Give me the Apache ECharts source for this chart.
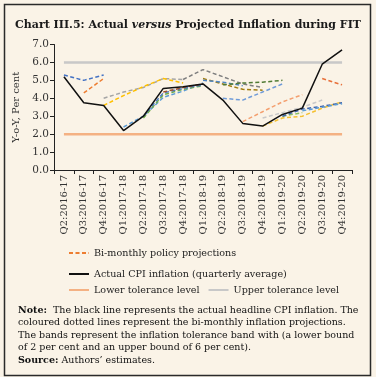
<!DOCTYPE html>
<html>
<head>
<meta charset="utf-8">
<script src="https://cdn.jsdelivr.net/npm/echarts@6/dist/echarts.min.js"></script>
<style>
  html, body { margin: 0; padding: 0; background: #faf3e7; }
  #chart1 { width: 376px; height: 377px; }
</style>
</head>
<body>
<div id="chart1"></div>
<script>
// 분기 (x축)
const categories = [
  'Q2:2016-17', 'Q3:2016-17', 'Q4:2016-17', 'Q1:2017-18', 'Q2:2017-18',
  'Q3:2017-18', 'Q4:2017-18', 'Q1:2018-19', 'Q2:2018-19', 'Q3:2018-19',
  'Q4:2018-19', 'Q1:2019-20', 'Q2:2019-20', 'Q3:2019-20', 'Q4:2019-20'
];
const yTicks = [0, 1, 2, 3, 4, 5, 6, 7];

// 실제 CPI (분기 평균)
const actualCpi = [5.2, 3.75, 3.6, 2.2, 3.0, 4.55, 4.65, 4.8, 3.9, 2.6, 2.45, 3.1, 3.45, 5.9, 6.7];
const lowerTol = [2, 2, 2, 2, 2, 2, 2, 2, 2, 2, 2, 2, 2, 2, 2];
const upperTol = [6, 6, 6, 6, 6, 6, 6, 6, 6, 6, 6, 6, 6, 6, 6];

// bi-monthly policy projections (null = no projection)
const _ = null;
const proj01 = [5.3, 5.0, 5.3, _, _, _, _, _, _, _, _, _, _, _, _];
const proj02 = [_, 4.3, 5.1, _, _, _, _, _, _, _, _, _, _, _, _];
const proj03 = [_, _, 4.0, 4.35, 4.6, 5.1, 5.05, _, _, _, _, _, _, _, _];
const proj04 = [_, _, 3.6, 4.15, 4.65, 5.1, 4.85, _, _, _, _, _, _, _, _];
const proj05 = [_, _, _, 2.4, 3.0, 4.05, 4.4, 4.85, _, _, _, _, _, _, _];
const proj06 = [_, _, _, _, 2.9, 4.2, 4.5, 4.7, _, _, _, _, _, _, _];
const proj07 = [_, _, _, _, 3.0, 4.3, 4.55, 4.75, _, _, _, _, _, _, _];
const proj08 = [_, _, _, _, _, 4.35, 4.6, 4.8, _, _, _, _, _, _, _];
const proj09 = [_, _, _, _, _, _, 5.05, 5.6, 5.2, 4.8, 4.6, _, _, _, _];
const proj10 = [_, _, _, _, _, _, _, 5.1, 4.8, 4.5, 4.45, _, _, _, _];
const proj11 = [_, _, _, _, _, _, _, 5.0, 4.9, 4.7, _, _, _, _, _];
const proj12 = [_, _, _, _, _, _, _, _, 4.75, 4.85, 4.9, 5.0, _, _, _];
const proj13 = [_, _, _, _, _, _, _, _, 4.0, 3.9, 4.35, 4.8, _, _, _];
const proj14 = [_, _, _, _, _, _, _, _, _, 2.7, 3.25, 3.8, 4.2, _, _];
const proj15 = [_, _, _, _, _, _, _, _, _, _, 2.9, 3.2, 3.5, 3.9, _];
const proj16 = [_, _, _, _, _, _, _, _, _, _, 2.45, 2.9, 3.0, 3.45, 3.8];
const proj17 = [_, _, _, _, _, _, _, _, _, _, _, 3.0, 3.2, _, _];
const proj18 = [_, _, _, _, _, _, _, _, _, _, _, 3.0, 3.4, 3.55, 3.75];
const proj19 = [_, _, _, _, _, _, _, _, _, _, _, _, 3.3, 3.5, 3.7];
const proj20 = [_, _, _, _, _, _, _, _, _, _, _, _, _, 5.1, 4.75];

const projections = [proj02, proj01, proj03, proj04, proj05, proj06, proj07, proj08, proj09, proj10,
  proj11, proj12, proj13, proj14, proj15, proj16, proj17, proj18, proj19, proj20];
const projColors = ['#ed7d31', '#4472c4', '#a5a5a5', '#ffc000', '#5b9bd5', '#70ad47', '#4a78c0', '#a0522d',
  '#7f7f7f', '#a07c10', '#4f86c6', '#4f7a34', '#6f9bd8', '#f4a070', '#c9c9c9', '#f5c030',
  '#8cc063', '#3d64b0', '#5b9bd5', '#e8703a'];

const FONT = 'DejaVu Serif';

const chartDiv = document.getElementById('chart1');
const myChart = echarts.init(chartDiv, null, { renderer: 'canvas' });

let series = projections.map((d, i) => ({
  name: i === 0 ? 'Bi-monthly policy projections' : 'proj' + i,
  type: 'line',
  data: d,
  symbol: 'none',
  connectNulls: false,
  lineStyle: { color: projColors[i], width: 1.5, type: [4, 2.5] },
  itemStyle: { color: projColors[i] },
  z: 2
}));
series.push(
  {
    name: 'Lower tolerance level', type: 'line', data: lowerTol, symbol: 'none',
    lineStyle: { color: '#f4b183', width: 2.5 }, itemStyle: { color: '#f4b183' }, z: 1
  },
  {
    name: 'Upper tolerance level', type: 'line', data: upperTol, symbol: 'none',
    lineStyle: { color: '#c8c8c8', width: 2.5 }, itemStyle: { color: '#c8c8c8' }, z: 1
  },
  {
    name: 'Actual CPI inflation (quarterly average)', type: 'line', data: actualCpi, symbol: 'none',
    lineStyle: { color: '#111', width: 1.5 }, itemStyle: { color: '#111' }, z: 5
  }
);

const legendBase = {
  left: 63, itemWidth: 20, itemHeight: 8, itemGap: 10,
  itemStyle: { opacity: 0 },
  textStyle: { fontFamily: FONT, fontSize: 9.6, color: '#222' }
};

const option = {
  backgroundColor: '#faf3e7',
  animation: false,
  title: [
    {
      text: '{b|Chart III.5: Actual }{i|versus}{b| Projected Inflation during FIT}',
      left: 'center', top: 15,
      textStyle: {
        rich: {
          b: { fontFamily: FONT, fontWeight: 'bold', fontSize: 11, color: '#1a1a1a' },
          i: { fontFamily: FONT, fontWeight: 'bold', fontStyle: 'italic', fontSize: 11, color: '#1a1a1a' }
        }
      }
    },
    {
      text: '{b|Note:}{n|  The black line represents the actual headline CPI inflation. The}\n' +
        '{n|coloured dotted lines represent the bi-monthly inflation projections.}\n' +
        '{n|The bands represent the inflation tolerance band with (a lower bound}\n' +
        '{n|of 2 per cent and an upper bound of 6 per cent).}\n' +
        '{b|Source:}{n| Authors\u2019 estimates.}',
      left: 13, top: 299,
      textStyle: {
        fontWeight: 'normal',
        lineHeight: 12.5,
        rich: {
          b: { fontFamily: FONT, fontWeight: 'bold', fontSize: 9.5, color: '#111', lineHeight: 12.5 },
          n: { fontFamily: FONT, fontWeight: 'normal', fontSize: 9.5, color: '#111', lineHeight: 12.5 }
        }
      }
    }
  ],
  legend: [
    Object.assign({}, legendBase, { top: 243, data: ['Bi-monthly policy projections'] }),
    Object.assign({}, legendBase, { top: 264, data: ['Actual CPI inflation (quarterly average)'] }),
    Object.assign({}, legendBase, { top: 280, itemGap: 8, data: ['Lower tolerance level', 'Upper tolerance level'] })
  ],
  grid: { left: 54, right: 24, top: 44.5, bottom: 207, containLabel: false },
  xAxis: {
    type: 'category',
    data: categories,
    boundaryGap: true,
    axisLine: { lineStyle: { color: '#222', width: 1 } },
    axisTick: { show: true, interval: 0, length: 4, lineStyle: { color: '#222' } },
    axisLabel: {
      interval: 0, rotate: 90, margin: 5,
      fontFamily: FONT, fontSize: 10, color: '#333'
    },
    splitLine: { show: false }
  },
  yAxis: {
    type: 'value',
    min: yTicks[0], max: yTicks[yTicks.length - 1], interval: 1,
    name: 'Y-o-Y, Per cent', nameLocation: 'middle', nameGap: 25,
    nameTextStyle: { fontFamily: FONT, fontSize: 10, color: '#333' },
    axisLine: { show: true, lineStyle: { color: '#222', width: 1 } },
    axisTick: { show: true, length: 4, lineStyle: { color: '#222' } },
    axisLabel: {
      margin: 5, fontFamily: FONT, fontSize: 10.5, color: '#333',
      formatter: v => v.toFixed(1)
    },
    splitLine: { show: false }
  },
  graphic: [
    {
      type: 'rect', silent: true,
      shape: { x: 4.5, y: 4.5, width: 366, height: 371 },
      style: { fill: 'none', stroke: '#2a2a2a', lineWidth: 1.5 }
    }
  ],
  series: series
};

if (option && typeof option === 'object') {
  myChart.setOption(option);
}
</script>
</body>
</html>
